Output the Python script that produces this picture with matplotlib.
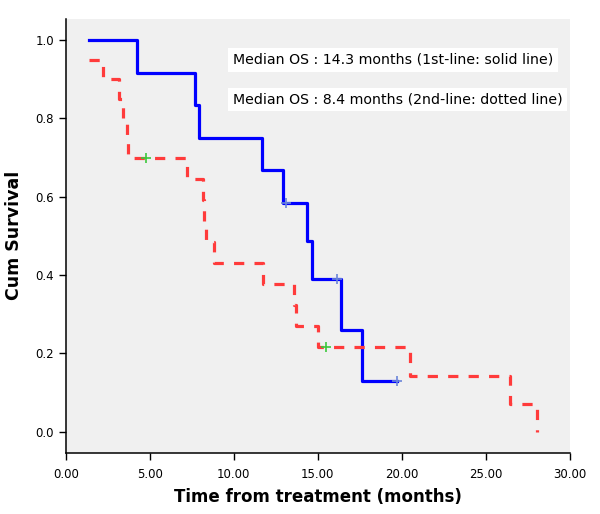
import matplotlib
matplotlib.use('Agg')
import matplotlib.pyplot as plt

# 1st-line (solid, blue)
t1 = [1.39, 4.26, 7.70, 7.95, 11.70, 12.95, 14.38, 14.64, 16.39, 17.62, 19.70]
s1 = [1.0, 0.917, 0.833, 0.75, 0.667, 0.583, 0.486, 0.389, 0.259, 0.130, 0.130]
c1_t = [13.1, 16.13, 19.70]
c1_s = [0.583, 0.389, 0.130]

# 2nd-line (dashed, red)
t2 = [1.39, 2.24, 3.19, 3.43, 3.63, 3.73, 7.20, 8.15, 8.20, 8.33, 8.83,
      11.73, 13.59, 13.69, 14.98, 20.49, 26.45, 28.04]
s2 = [0.95, 0.90, 0.85, 0.80, 0.75, 0.70, 0.646, 0.592, 0.538, 0.485, 0.431,
      0.377, 0.323, 0.269, 0.215, 0.143, 0.072, 0.0]
c2_t = [4.76, 15.49]
c2_s = [0.70, 0.215]

xticks = [0, 5, 10, 15, 20, 25, 30]
yticks = [0.0, 0.2, 0.4, 0.6, 0.8, 1.0]

fig = plt.figure(figsize=(6, 5.14), dpi=100)
ax = fig.add_axes([65.7 / 600, 1 - 452.7 / 514, (570 - 65.7) / 600, (452.7 - 19) / 514])
ax.set_facecolor('#f0f0f0')

ax.step(t1, s1, where='post', color='#0000ff', lw=2.3)
ax.step(t2, s2, where='post', color='#ff3b3b', lw=2.3, linestyle=(0, (3.2, 3.2)),
        dash_capstyle='butt')
ax.plot(c1_t, c1_s, '+', color='#6a85d8', ms=7, mew=1.2)
ax.plot(c2_t, c2_s, '+', color='#3cc83c', ms=7, mew=1.2)

ax.set_xlim(0, 30)
ax.set_ylim(-0.0536, 1.0536)
ax.set_xticks(xticks)
ax.set_xticklabels(['%.2f' % v for v in xticks])
ax.set_yticks(yticks)
ax.set_yticklabels(['%.1f' % v for v in yticks])
ax.tick_params(direction='out', length=5, width=1, labelsize=8.5, colors='black')
ax.tick_params(axis='x', pad=6)

for side in ['top', 'right']:
    ax.spines[side].set_visible(False)
for side in ['left', 'bottom']:
    ax.spines[side].set_linewidth(1.1)

ax.set_xlabel('Time from treatment (months)', fontsize=12, fontweight='bold', labelpad=5)
ax.set_ylabel('Cum Survival', fontsize=12.5, fontweight='bold', labelpad=9)

box = dict(boxstyle='square,pad=0.32', facecolor='white', edgecolor='none')
ax.text(9.95, 0.949, 'Median OS : 14.3 months (1st-line: solid line)',
        fontsize=10.2, va='center', ha='left', bbox=box)
ax.text(9.95, 0.847, 'Median OS : 8.4 months (2nd-line: dotted line)',
        fontsize=10.2, va='center', ha='left', bbox=box)

fig.savefig('out.png', dpi=100)
